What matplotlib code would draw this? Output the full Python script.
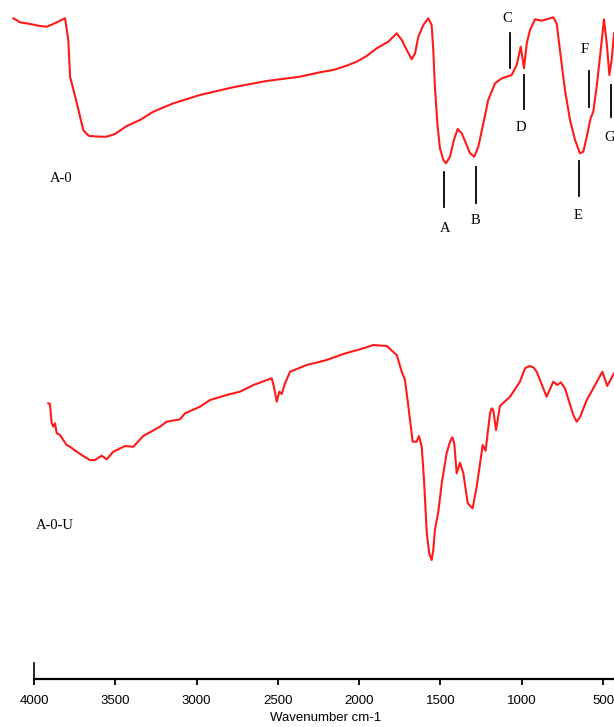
import matplotlib
matplotlib.use("Agg")
import matplotlib.pyplot as plt

# FTIR spectra (offset transmittance, arbitrary units) vs wavenumber (cm-1)
wn_a0 = [4127, 4086, 4024, 3963, 3922, 3881, 3809, 3789, 3778, 3737, 3697, 3680,
         3660, 3594, 3553, 3502, 3430, 3348, 3266, 3143, 2979, 2776, 2569, 2364,
         2241, 2159, 2077, 2015, 1954, 1892, 1821, 1769, 1738, 1707, 1677, 1656,
         1636, 1605, 1575, 1554, 1544, 1534, 1519, 1503, 1482, 1466, 1441, 1417,
         1394, 1369, 1343, 1318, 1292, 1267, 1236, 1206, 1164, 1123, 1092, 1062,
         1031, 1006, 986, 969, 949, 918, 877, 846, 806, 785, 765, 734, 703, 672,
         642, 621, 600, 576, 560, 539, 514, 494, 477, 461, 447, 432]
t_a0 = [97.31, 96.72, 96.47, 96.17, 96.07, 96.47, 97.31, 94.11, 88.71, 84.84,
        80.86, 80.38, 79.98, 79.88, 79.88, 80.27, 81.45, 82.34, 83.56, 84.79,
        86.02, 87.15, 88.08, 88.71, 89.36, 89.70, 90.33, 90.92, 91.76, 92.89,
        93.86, 95.10, 94.11, 92.64, 91.27, 92.15, 94.60, 96.32, 97.31, 96.32,
        92.64, 87.24, 81.85, 78.17, 76.45, 75.96, 76.93, 79.39, 81.01, 80.38,
        78.90, 77.43, 76.93, 78.40, 81.85, 85.28, 87.74, 88.47, 88.71, 88.96,
        90.43, 93.13, 89.95, 93.63, 95.58, 97.16, 96.95, 97.16, 97.45, 96.57,
        92.64, 86.75, 82.34, 79.39, 77.43, 77.67, 79.88, 82.59, 83.56, 87.24,
        92.64, 97.16, 93.63, 88.96, 91.17, 95.10]

wn_a0u = [3912, 3902, 3891, 3881, 3871, 3860, 3840, 3820, 3799, 3779, 3737, 3697,
          3656, 3625, 3584, 3553, 3512, 3440, 3389, 3328, 3225, 3184, 3102, 3071,
          2979, 2917, 2815, 2733, 2651, 2538, 2524, 2507, 2491, 2476, 2456, 2425,
          2323, 2241, 2200, 2097, 1974, 1913, 1830, 1769, 1738, 1718, 1697, 1671,
          1646, 1632, 1615, 1601, 1584, 1569, 1554, 1544, 1534, 1513, 1492, 1462,
          1441, 1427, 1415, 1400, 1380, 1359, 1332, 1302, 1277, 1240, 1222, 1195,
          1185, 1175, 1158, 1134, 1072, 1011, 980, 953, 929, 908, 847, 806, 781,
          760, 734, 683, 662, 642, 600, 560, 504, 474, 432]
t_a0u = [40.63, 40.53, 37.69, 37.19, 37.69, 36.21, 35.96, 35.23, 34.49, 34.24,
         33.51, 32.87, 32.28, 32.28, 32.92, 32.39, 33.51, 34.34, 34.24, 35.82,
         37.19, 37.92, 38.27, 39.16, 40.13, 41.12, 41.85, 42.34, 43.32, 44.31,
         43.07, 40.87, 42.34, 42.00, 43.57, 45.28, 46.27, 46.75, 47.00, 47.89,
         48.73, 49.21, 49.07, 47.74, 45.28, 44.06, 40.13, 34.98, 34.98, 35.82,
         34.24, 29.34, 21.49, 18.55, 17.56, 19.03, 21.98, 24.67, 28.85, 33.27,
         34.98, 35.63, 34.74, 30.33, 31.89, 30.33, 25.91, 25.17, 28.35, 34.49,
         33.65, 39.16, 39.89, 39.64, 36.70, 40.23, 41.60, 43.81, 45.78, 46.12,
         45.93, 45.28, 41.60, 43.81, 43.32, 43.72, 42.84, 38.91, 37.92, 38.57,
         41.12, 42.84, 45.28, 43.18, 45.05]

# Band markers on the A-0 spectrum: letter, wavenumber, marker span, letter position
band_names = ["A", "B", "C", "D", "E", "F", "G"]
band_wn = [1476, 1283, 1072, 986, 646, 584, 453]
band_lo = [69.57, 70.12, 89.95, 83.91, 71.15, 84.29, 82.78]
band_hi = [74.72, 75.42, 95.19, 88.96, 76.30, 89.55, 87.51]
band_text_wn = [1468, 1287, 1087, 1005, 653, 612, 457]
band_text_y = [66.29, 67.47, 97.35, 81.16, 68.35, 92.64, 79.80]

sample_names = ["A-0", "A-0-U"]
sample_wn = [3902, 3988]
sample_y = [73.65, 22.71]

tick_values = [4000, 3500, 3000, 2500, 2000, 1500, 1000, 500]

fig = plt.figure(figsize=(6.14, 7.27), dpi=100)
ax = fig.add_axes([0, 0, 1, 1])
ax.set_xlim(4209.1, 432.4)
ax.set_ylim(-7.02, 100)

red = "#ff1a1a"
ax.plot(wn_a0, t_a0, color=red, lw=1.5, solid_joinstyle="round")
ax.plot(wn_a0u, t_a0u, color=red, lw=1.5, solid_joinstyle="round")

serif = ["Liberation Serif", "DejaVu Serif"]
for name, w, lo, hi, tw, ty in zip(band_names, band_wn, band_lo, band_hi,
                                   band_text_wn, band_text_y):
    ax.plot([w, w], [lo, hi], color="black", lw=1.3)
    ax.text(tw, ty, name, family=serif, fontsize=10.5, ha="center", va="center")

for name, w, y in zip(sample_names, sample_wn, sample_y):
    ax.text(w, y, name, family=serif, fontsize=10.5, ha="left", va="center")

# Wavenumber axis
for side in ["top", "left", "right"]:
    ax.spines[side].set_visible(False)
ax.spines["bottom"].set_position(("data", 0))
ax.spines["bottom"].set_bounds(4000, 432.4)
ax.spines["bottom"].set_linewidth(1.6)
ax.plot([4000, 4000], [0, 2.4], color="black", lw=1.2)
ax.set_yticks([])
ax.set_xticks(tick_values)
ax.set_xticklabels([str(v) for v in tick_values])
ax.tick_params(axis="x", direction="out", length=4, width=1.3, pad=7)
for lbl in ax.get_xticklabels():
    lbl.set_family(["Liberation Sans", "DejaVu Sans"])
    lbl.set_fontsize(9.5)
ax.set_xlabel("Wavenumber cm-1", family=["Liberation Sans", "DejaVu Sans"],
              fontsize=9.5)
ax.xaxis.set_label_coords(0.531, 0.021)

fig.savefig("out.png", dpi=100)
